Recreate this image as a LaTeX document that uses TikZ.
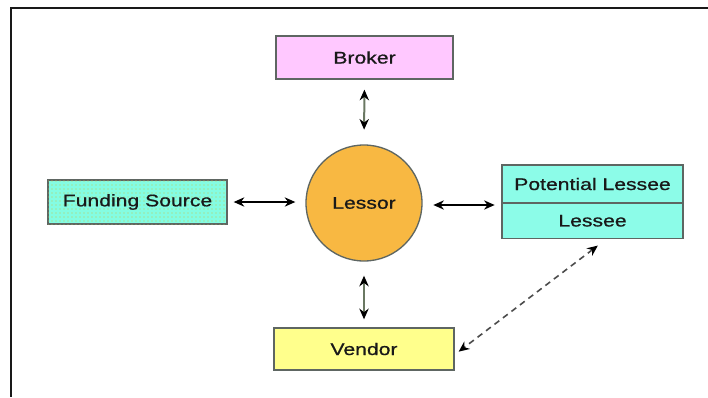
\documentclass[tikz,border=0pt]{standalone}
\usepackage{fontspec}
\newfontfamily\lblfont[FakeStretch=1.26,FakeBold=0.8]{Liberation Sans}
\usetikzlibrary{arrows.meta,patterns}

\definecolor{brokerpink}{HTML}{FFC8FF}
\definecolor{fundcyan}{HTML}{84FCE2}
\definecolor{lesseecyan}{HTML}{8CFCE8}
\definecolor{vendoryellow}{HTML}{FFFF8C}
\definecolor{lessororange}{HTML}{F8B842}
\definecolor{boxedge}{HTML}{5E6662}
\definecolor{shaft}{HTML}{6A7862}

\tikzset{
  entity/.style={draw=boxedge, line width=1pt, rectangle, inner sep=0pt,
    font=\lblfont\fontsize{12.6pt}{14pt}\selectfont, text=black!90},
  tip/.style={Stealth[length=8pt,width=7pt,color=black]},
  twoway/.style={{Stealth[length=8pt,width=7pt,color=black]}-{Stealth[length=8pt,width=7pt,color=black]},
    line width=1pt},
  frameline/.style={line width=1.8pt, draw=black!90}
}

\begin{document}
\begin{tikzpicture}[x=0.75pt,y=-0.75pt]
  \useasboundingbox (0,0) rectangle (708,397);

  % open frame: top edge and left edge
  \draw[frameline] (10,8) -- (708,8);
  \draw[frameline] (11,8) -- (11,397);

  % entities
  \node[entity, fill=brokerpink, minimum width=132.75pt, minimum height=32.25pt]
    (broker) at (364.5,57.5) {Broker};

  \node[entity, fill=fundcyan, minimum width=134.25pt, minimum height=33pt,
        postaction={pattern=dots, pattern color=olive!45}]
    (funding) at (137.5,202) {Funding Source};

  \node[circle, draw=boxedge, line width=1pt, fill=lessororange,
        minimum size=87pt, inner sep=0pt,
        font=\lblfont\fontsize{12.6pt}{14pt}\selectfont, text=black!90]
    (lessor) at (364,203) {Lessor};

  \node[entity, fill=lesseecyan, minimum width=135.75pt, minimum height=28.5pt]
    (potential) at (592.5,184) {Potential Lessee};
  \node[entity, fill=lesseecyan, minimum width=135.75pt, minimum height=26.25pt]
    (lessee) at (592.5,220.75) {Lessee};

  \node[entity, fill=vendoryellow, minimum width=135pt, minimum height=31.5pt]
    (vendor) at (364,349) {Vendor};

  % connectors
  \draw[twoway, draw=shaft, line width=1.5pt, shorten <=7.5pt, shorten >=11pt] (broker.south) -- (lessor.north);
  \draw[twoway, shorten <=4.5pt, shorten >=7.5pt] (funding.east) -- (funding.east -| lessor.west);
  \draw[twoway, shorten <=8pt, shorten >=5pt] ([yshift=-1.5pt]lessor.east) -- ([yshift=-1.5pt]lessor.east -| potential.west);
  \draw[twoway, draw=shaft, line width=1.5pt, shorten <=10.5pt, shorten >=6pt] (lessor.south) -- (vendor.north);
  \draw[twoway, line width=1.2pt, dash pattern=on 4.5pt off 3.5pt, draw=black!70]
    ([xshift=4pt,yshift=-5pt]lessee.south) -- ([xshift=3pt,yshift=-2pt]vendor.east);
\end{tikzpicture}
\end{document}
